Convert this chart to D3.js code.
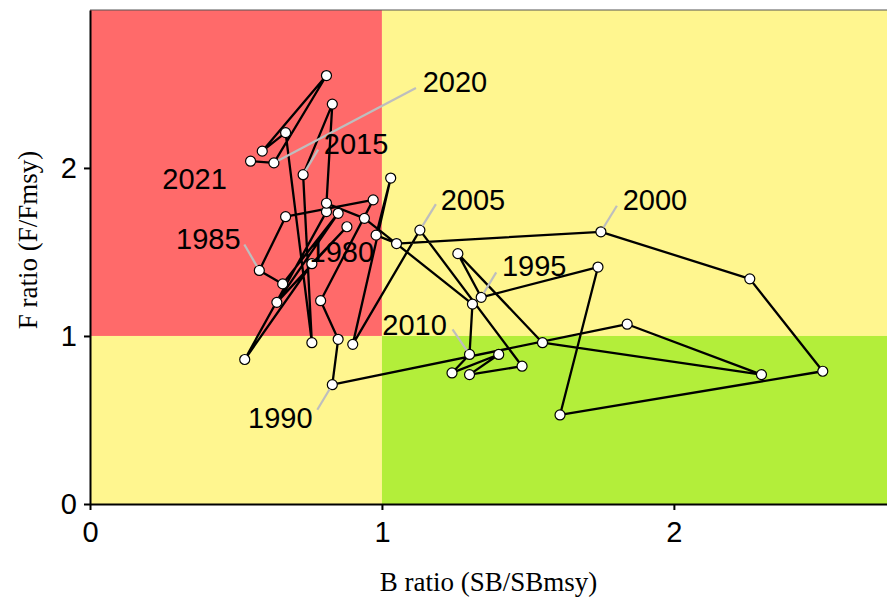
<!DOCTYPE html>
<html lang="en">
<head>
<meta charset="UTF-8">
<title>Kobe plot</title>
<script src="https://d3js.org/d3.v7.min.js"></script>
<style>
    body { margin:0; padding:0; background:#fff; }
    #misvg { display:block; }
</style>
</head>
<body>
<svg id="misvg"></svg>
<script>
    // trajectory, one value per year
    let anios = [1978, 1979, 1980, 1981, 1982, 1983, 1984, 1985, 1986, 1987,
                 1988, 1989, 1990, 1991, 1992, 1993, 1994, 1995, 1996, 1997,
                 1998, 1999, 2000, 2001, 2002, 2003, 2004, 2005, 2006, 2007,
                 2008, 2009, 2010, 2011, 2012, 2013, 2014, 2015, 2016, 2017,
                 2018, 2019, 2020, 2021]
    let bRatio = [0.81, 0.53, 0.76, 0.88, 0.64, 0.85, 0.66, 0.58, 0.67, 0.97,
                  0.79, 0.85, 0.83, 1.84, 2.30, 1.55, 1.26, 1.34, 1.74, 1.61,
                  2.51, 2.26, 1.75, 1.05, 0.98, 1.03, 0.90, 1.13, 1.48, 1.30,
                  1.40, 1.24, 1.30, 1.31, 0.94, 0.81, 0.83, 0.73, 0.76, 0.67,
                  0.59, 0.81, 0.63, 0.55]
    let fRatio = [1.74, 0.86, 1.43, 1.65, 1.20, 1.73, 1.31, 1.39, 1.71, 1.81,
                  1.21, 0.98, 0.71, 1.07, 0.77, 0.96, 1.49, 1.23, 1.41, 0.53,
                  0.79, 1.34, 1.62, 1.55, 1.60, 1.94, 0.95, 1.63, 0.82, 0.77,
                  0.89, 0.78, 0.89, 1.19, 1.70, 1.79, 2.38, 1.96, 0.96, 2.21,
                  2.10, 2.55, 2.03, 2.04]
    let aniosEtiqueta = [1980, 1985, 1990, 1995, 2000, 2005, 2010, 2015, 2020, 2021]
    let ticksX = [0, 1, 2]
    let ticksY = [0, 1, 2]

    // where each year label sits relative to its point (px), and the grey leader end
    let nudge = {
        1980: {dx: 30, dy: -12, lx: null, ly: null},
        1985: {dx: -51, dy: -31, lx: -15, ly: -26},
        1990: {dx: -52, dy: 33, lx: -15, ly: 25},
        1995: {dx: 53, dy: -31, lx: 15, ly: -25},
        2000: {dx: 54, dy: -32, lx: 16, ly: -26},
        2005: {dx: 53, dy: -30, lx: 16, ly: -26},
        2010: {dx: -55, dy: -29, lx: -17, ly: -25},
        2015: {dx: 53, dy: -31, lx: 15, ly: -25},
        2020: {dx: 181, dy: -81, lx: 142, ly: -75},
        2021: {dx: -56, dy: 18, lx: null, ly: null}
    }

    let svgw = 887
    let svgh = 601
    let margen = {izq: 90, der: 0, sup: 10, inf: 97}
    let grafw = svgw - margen.izq - margen.der
    let grafh = svgh - margen.sup - margen.inf

    let xMax = 2.73, yMax = 2.94

    let datos = anios.map((a, i) => ({anio: a, b: bRatio[i], f: fRatio[i]}))

    let svg = d3.select('#misvg')
        .attr('width', svgw)
        .attr('height', svgh)

    let escalaX = d3.scaleLinear().domain([0, xMax]).range([0, grafw])
    let escalaY = d3.scaleLinear().domain([0, yMax]).range([grafh, 0])

    let g = svg.append('g')
        .attr('transform', `translate(${margen.izq},${margen.sup})`)

    // kobe quadrants
    let zonas = [
        {x0: 0, x1: 1, y0: 1, y1: yMax, color: '#FF6A6A'},
        {x0: 1, x1: xMax, y0: 1, y1: yMax, color: '#FFF68F'},
        {x0: 0, x1: 1, y0: 0, y1: 1, color: '#FFF68F'},
        {x0: 1, x1: xMax, y0: 0, y1: 1, color: '#B3EE3A'}
    ]
    g.selectAll('rect.zona')
        .data(zonas)
        .enter().append('rect')
        .attr('class', 'zona')
        .attr('x', d => escalaX(d.x0))
        .attr('y', d => escalaY(d.y1))
        .attr('width', d => escalaX(d.x1) - escalaX(d.x0))
        .attr('height', d => escalaY(d.y0) - escalaY(d.y1))
        .attr('fill', d => d.color)

    // thin top border
    g.append('line')
        .attr('x1', 0).attr('x2', grafw)
        .attr('y1', 0).attr('y2', 0)
        .attr('stroke', '#555').attr('stroke-width', 1)

    // trajectory
    let linea = d3.line().x(d => escalaX(d.b)).y(d => escalaY(d.f))
    g.append('path')
        .datum(datos)
        .attr('d', linea)
        .attr('fill', 'none')
        .attr('stroke', '#000')
        .attr('stroke-width', 2.3)
        .attr('stroke-linejoin', 'round')

    g.selectAll('circle')
        .data(datos)
        .enter().append('circle')
        .attr('cx', d => escalaX(d.b))
        .attr('cy', d => escalaY(d.f))
        .attr('r', 5)
        .attr('fill', '#fff')
        .attr('stroke', '#000')
        .attr('stroke-width', 1.2)

    // year labels with leaders
    let etiquetas = datos.filter(d => aniosEtiqueta.includes(d.anio))

    g.selectAll('line.lider')
        .data(etiquetas.filter(d => nudge[d.anio].lx !== null))
        .enter().append('line')
        .attr('class', 'lider')
        .attr('x1', d => {
            let n = nudge[d.anio], l = Math.hypot(n.lx, n.ly)
            return escalaX(d.b) + n.lx / l * 5
        })
        .attr('y1', d => {
            let n = nudge[d.anio], l = Math.hypot(n.lx, n.ly)
            return escalaY(d.f) + n.ly / l * 5
        })
        .attr('x2', d => escalaX(d.b) + nudge[d.anio].lx)
        .attr('y2', d => escalaY(d.f) + nudge[d.anio].ly)
        .attr('stroke', '#BEBEBE')
        .attr('stroke-width', 2.2)

    g.selectAll('text.anio')
        .data(etiquetas)
        .enter().append('text')
        .attr('class', 'anio')
        .attr('x', d => escalaX(d.b) + nudge[d.anio].dx)
        .attr('y', d => escalaY(d.f) + nudge[d.anio].dy)
        .attr('text-anchor', 'middle')
        .attr('dominant-baseline', 'central')
        .style('font-family', '"Liberation Sans", Arial, sans-serif')
        .style('font-size', '29px')
        .attr('fill', '#000')
        .text(d => d.anio)

    // axes
    let ejeX = g.append('g')
        .attr('transform', `translate(0,${grafh})`)
        .call(d3.axisBottom(escalaX).tickValues(ticksX).tickFormat(d3.format('d'))
            .tickSize(6).tickSizeOuter(0).tickPadding(11))
    let ejeY = g.append('g')
        .call(d3.axisLeft(escalaY).tickValues(ticksY).tickFormat(d3.format('d'))
            .tickSize(6).tickSizeOuter(0).tickPadding(7))

    for (let eje of [ejeX, ejeY]) {
        eje.select('.domain').attr('stroke', '#000').attr('stroke-width', 2)
        eje.selectAll('.tick line').attr('stroke', '#000').attr('stroke-width', 2)
        eje.selectAll('.tick text')
            .attr('fill', '#000')
            .style('font-family', '"Liberation Sans", Arial, sans-serif')
            .style('font-size', '29px')
    }

    // axis titles
    svg.append('text')
        .attr('x', margen.izq + grafw / 2)
        .attr('y', 591)
        .attr('text-anchor', 'middle')
        .style('font-family', '"Liberation Serif", "Times New Roman", serif')
        .style('font-size', '27px')
        .text('B ratio (SB/SBmsy)')

    svg.append('text')
        .attr('transform', 'translate(37,240) rotate(-90)')
        .attr('text-anchor', 'middle')
        .style('font-family', '"Liberation Serif", "Times New Roman", serif')
        .style('font-size', '27px')
        .text('F ratio (F/Fmsy)')
</script>
</body>
</html>
